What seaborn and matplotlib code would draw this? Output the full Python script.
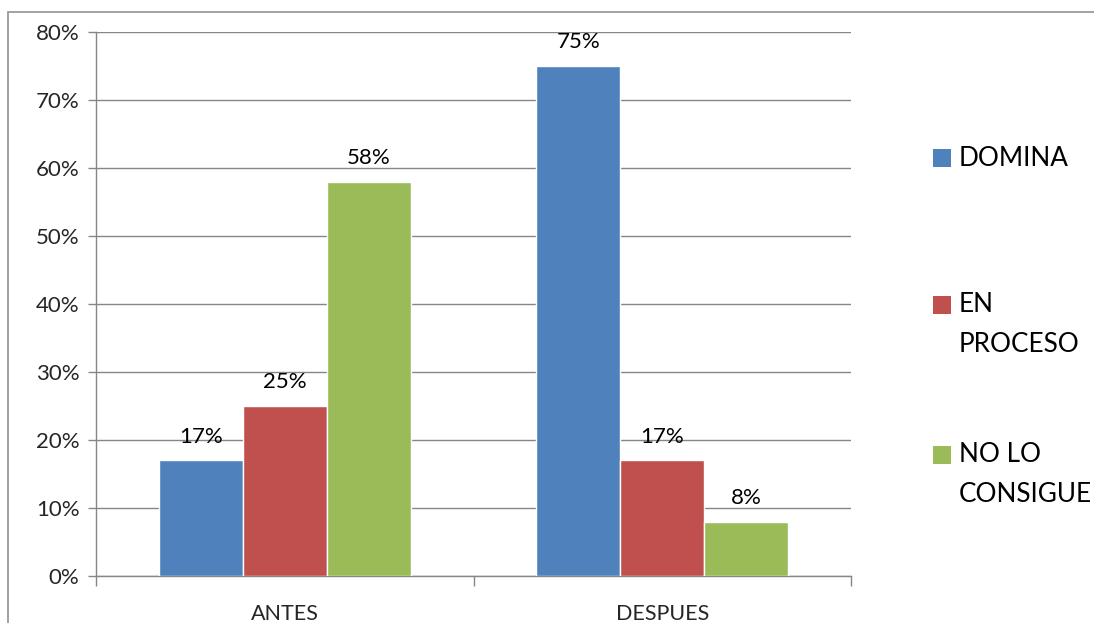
import matplotlib.pyplot as plt
import matplotlib.patches as mpatches
import seaborn as sns
import pandas as pd
import numpy as np

# data
periods = ['ANTES', 'DESPUES']
levels = ['DOMINA', 'EN PROCESO', 'NO LO CONSIGUE']
legend_lines = [['DOMINA'], ['EN', 'PROCESO'], ['NO LO', 'CONSIGUE']]
domina = [0.17, 0.75]
en_proceso = [0.25, 0.17]
no_consigue = [0.58, 0.08]
colors = ['#4F81BD', '#C0504D', '#9BBB59']

df = pd.DataFrame({
    'Periodo': periods * 3,
    'Nivel': [levels[0]] * 2 + [levels[1]] * 2 + [levels[2]] * 2,
    'Valor': domina + en_proceso + no_consigue,
})

sns.set_theme(style='white')
plt.rcParams['font.family'] = ['Lato', 'DejaVu Sans']

fig = plt.figure(figsize=(10.94, 6.23), dpi=100)
ax = fig.add_axes([96 / 1094, 1 - 576 / 623, 755 / 1094, 544 / 623])

grid_c = '#868686'

sns.barplot(data=df, x='Periodo', y='Valor', hue='Nivel', hue_order=levels,
            order=periods, palette=colors, width=2 / 3, saturation=1,
            errorbar=None, ax=ax, legend=False, zorder=3)

for cont in ax.containers:
    ax.bar_label(cont, labels=[f'{v * 100:.0f}%' for v in cont.datavalues],
                 padding=10, fontsize=16, color='black')

ax.set_xlim(-0.5, 1.5)
ax.set_ylim(0, 0.8)
ax.set_yticks(np.arange(0, 0.81, 0.1))
ax.set_yticklabels([f'{int(round(t * 100))}%' for t in np.arange(0, 0.81, 0.1)])
ax.yaxis.grid(True, color=grid_c, linewidth=1, zorder=0)
ax.set_axisbelow(True)
ax.set_xlabel('')
ax.set_ylabel('')

for s in ['top', 'right']:
    ax.spines[s].set_visible(False)
for s in ['left', 'bottom']:
    ax.spines[s].set_color(grid_c)
    ax.spines[s].set_linewidth(1)

ax.tick_params(axis='y', which='major', length=6, width=1, color=grid_c,
               direction='out', labelsize=16, pad=6, left=True)
ax.tick_params(axis='x', which='major', length=0, labelsize=15.5, pad=20)
ax.set_xticks([-0.5, 0.5, 1.5], minor=True)
ax.tick_params(axis='x', which='minor', length=7, width=1, color=grid_c,
               direction='out', bottom=True)

# outer chart border (Excel style)
fig.patches.append(mpatches.Rectangle((8 / 1094, -0.1), 1.2, 1 - 12 / 623 + 0.1,
                                      transform=fig.transFigure, fill=False,
                                      edgecolor='#9a9a9a', linewidth=1.3))

# legend, drawn like Excel: swatch aligned to first line
leg_y = [158, 305, 455]
for lines, col, y in zip(legend_lines, colors, leg_y):
    fig.patches.append(mpatches.Rectangle((933 / 1094, 1 - (y + 9) / 623), 18 / 1094, 18 / 623,
                                          transform=fig.transFigure, facecolor=col,
                                          edgecolor='none'))
    for k, line in enumerate(lines):
        fig.text(959 / 1094, 1 - (y + 40 * k) / 623, line, fontsize=18.8,
                 va='center', ha='left', color='black')

fig.savefig('out.png', dpi=100)
